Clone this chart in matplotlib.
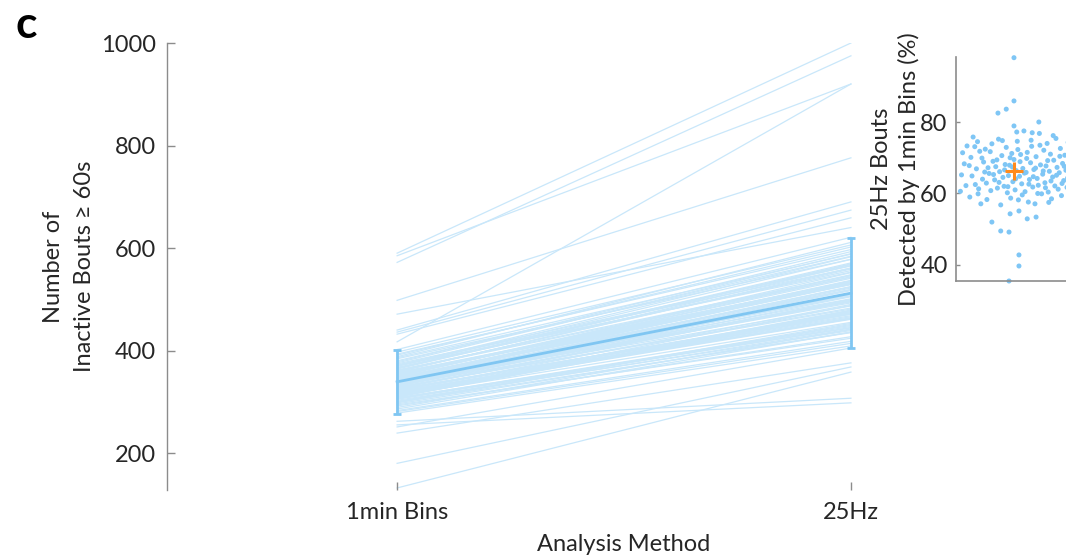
import numpy as np
import matplotlib
matplotlib.use("Agg")
import matplotlib.pyplot as plt
import matplotlib.transforms as mtransforms

plt.rcParams['font.family'] = ['Lato', 'DejaVu Sans']

# individual animals: bouts counted with 1min bins vs 25Hz data
bins_1min = [352, 318, 331, 296, 367, 340, 309, 384, 325, 347,
             289, 358, 336, 314, 372, 301, 344, 327, 393, 320,
             338, 305, 361, 349, 283, 329, 376, 311, 342, 355,
             298, 334, 388, 316, 346, 323, 364, 307, 339, 351,
             278, 332, 370, 313, 343, 357, 292, 326, 380, 337,
             303, 348, 321, 366, 341, 310, 397, 333, 354, 286,
             328, 360, 317, 345, 374, 300, 335, 350, 322, 369,
             306, 339, 391, 315, 356, 330, 294, 362, 343, 324,
             378, 312, 347, 337, 402, 319, 353, 281, 333, 365,
             308, 344, 326, 386, 340, 299, 359, 318, 371, 336,
             590, 585, 572, 498, 471, 440, 436, 432, 417, 262,
             255, 251, 239, 180, 132]
hz_25 = [541, 462, 512, 436, 556, 524, 478, 578, 473, 537,
         441, 566, 495, 488, 561, 442, 531, 500, 597, 468,
         519, 445, 543, 552, 418, 483, 589, 476, 507, 531,
         451, 512, 611, 461, 534, 476, 568, 449, 501, 547,
         409, 487, 553, 473, 529, 534, 427, 498, 584, 517,
         439, 519, 490, 571, 506, 471, 606, 510, 529, 436,
         481, 559, 464, 533, 565, 453, 493, 544, 471, 578,
         447, 522, 602, 479, 533, 505, 424, 546, 530, 474,
         593, 455, 536, 496, 621, 466, 548, 414, 509, 569,
         444, 512, 497, 588, 525, 435, 561, 463, 583, 498,
         1000, 920, 975, 776, 640, 690, 674, 659, 920, 307,
         298, 405, 376, 368, 358]
mean_vals = [339, 512]
sd_vals = [62, 107]
methods = ["1min Bins", "25Hz"]

# inset: % of 25Hz bouts detected by 1min bins (jitter offset, value)
inset_x = [-0.95, -0.90, -0.85, -0.80, -0.78, -0.74, -0.70, -0.68, -0.65, -0.62,
           -0.60, -0.57, -0.55, -0.52, -0.50, -0.47, -0.45, -0.42, -0.40, -0.38,
           -0.35, -0.33, -0.30, -0.28, -0.26, -0.24, -0.22, -0.20, -0.18, -0.16,
           -0.14, -0.12, -0.10, -0.08, -0.06, -0.04, -0.02, 0.00, 0.02, 0.04,
           0.06, 0.08, 0.10, 0.12, 0.14, 0.16, 0.18, 0.20, 0.22, 0.24,
           0.26, 0.28, 0.30, 0.32, 0.34, 0.36, 0.38, 0.40, 0.42, 0.44,
           0.46, 0.48, 0.50, 0.52, 0.54, 0.56, 0.58, 0.60, 0.62, 0.64,
           0.66, 0.68, 0.70, 0.72, 0.74, 0.76, 0.78, 0.80, 0.82, 0.84,
           0.86, 0.88, 0.90, 0.92, 0.94, 0.96, 0.98,
           -0.93, -0.87, -0.81, -0.76, -0.71, -0.64, -0.58, -0.53, -0.49, -0.43,
           -0.37, -0.31, -0.27, -0.21, -0.17, -0.11, -0.07, -0.03, 0.03, 0.07,
           0.11, 0.15, 0.19, 0.23, 0.27, 0.31, 0.35, 0.39, 0.43, 0.47,
           0.53, 0.57, 0.61, 0.67, 0.71, 0.77, 0.83, 0.87, 0.91, 0.97,
           -0.97, -0.66, 0.05, 0.33, 0.63,
           0.00, 0.00, -0.14, -0.29, 0.45, 0.00, -0.40, -0.07, 0.09, 0.24,
           0.40, -0.24, -0.09, 0.09, 0.09, -0.09]
inset_y = [65.2, 68.3, 73.3, 59.0, 70.1, 75.8, 62.5, 66.9, 59.9, 71.8,
           57.1, 64.0, 68.8, 72.4, 62.9, 67.2, 65.6, 60.8, 73.9, 69.0,
           63.8, 67.5, 61.5, 75.2, 66.1, 56.8, 70.6, 64.5, 62.0, 68.1,
           72.9, 60.2, 65.0, 67.9, 58.7, 71.2, 63.3, 69.5, 61.0, 66.4,
           74.6, 58.2, 64.8, 70.9, 62.7, 67.0, 77.5, 60.5, 65.9, 71.5,
           57.6, 63.9, 68.6, 73.2, 61.8, 66.7, 57.1, 70.3, 64.2, 62.3,
           76.8, 68.0, 59.9, 65.4, 72.1, 63.0, 67.7, 74.0, 60.4, 66.2,
           71.0, 58.5, 64.6, 69.3, 62.1, 75.4, 67.3, 61.2, 65.8, 72.6,
           59.4, 68.4, 63.6, 70.7, 66.5, 61.7, 74.3,
           71.4, 62.2, 67.8, 64.9, 73.1, 61.3, 69.9, 66.0, 58.3, 71.7,
           65.3, 69.4, 63.1, 74.8, 66.6, 61.9, 70.0, 67.4, 64.1, 72.3,
           68.9, 59.6, 65.7, 69.8, 62.6, 74.9, 64.7, 67.1, 60.0, 73.5,
           66.3, 61.6, 69.2, 63.5, 76.2, 65.1, 70.4, 62.8, 67.6, 64.3,
           60.6, 74.5, 77.2, 77.0, 57.5,
           98.0, 85.9, 83.6, 82.5, 80.0, 78.9, 52.0, 54.3, 55.1, 52.9,
           53.4, 49.5, 49.2, 42.8, 39.7, 35.5]
inset_center = 66.3

line_col = "#c9e7fa"
mean_col = "#80c6f2"
text_col = "#262626"
spine_col = "#8c8c8c"
fs = 17

fig = plt.figure(figsize=(10.66, 5.57), dpi=100)
ax = fig.add_axes([0.1567, 0.1203, 0.7054, 0.8025])

xpos = np.arange(1, len(methods) + 1)
for a, b in zip(bins_1min, hz_25):
    ax.plot(xpos, [a, b], color=line_col, lw=0.9, zorder=1)
ax.errorbar(xpos, mean_vals, yerr=sd_vals, color=mean_col, lw=2.0,
            elinewidth=2.0, capsize=3, capthick=2.0, zorder=3)

ax.set_xlim(0.493, 2.15)
ax.set_ylim(128, 1000)
ax.set_yticks([200, 400, 600, 800, 1000])
ax.set_xticks(xpos)
ax.set_xticklabels(methods)
for s in ["top", "right", "bottom"]:
    ax.spines[s].set_visible(False)
ax.spines["left"].set_color(spine_col)
ax.spines["left"].set_linewidth(1.0)
ax.tick_params(direction="in", length=6, width=1, color=spine_col,
               labelcolor=text_col, labelsize=fs, pad=8)
ax.tick_params(axis="x", pad=9)
ax.set_ylabel("Number of\nInactive Bouts \u2265 60s", fontsize=fs,
              color=text_col, labelpad=4, linespacing=1.6)
trans = mtransforms.blended_transform_factory(ax.transData, fig.transFigure)
ax.text(1.5, 0.003, "Analysis Method", transform=trans, ha="center",
        va="bottom", fontsize=fs, color=text_col)

fig.text(0.015, 0.955, "c", fontsize=32, fontweight="bold", ha="left",
         va="center", color="black")

# inset
ins = fig.add_axes([0.8968, 0.4955, 0.1088, 0.4022])
ins.scatter(inset_x, inset_y, s=13, color="#7fc6f5", edgecolors="none",
            zorder=2, clip_on=False)
ins.plot([0], [inset_center], marker="+", ms=13, mew=2.2, color="#ff8a1c",
         zorder=3)
ins.set_xlim(-1.05, 1.05)
ins.set_ylim(35.5, 98.2)
ins.set_yticks([40, 60, 80])
ins.set_xticks([])
for s in ["top", "right"]:
    ins.spines[s].set_visible(False)
for s in ["left", "bottom"]:
    ins.spines[s].set_color(spine_col)
    ins.spines[s].set_linewidth(1.2)
ins.tick_params(direction="in", length=3, width=1, color=spine_col,
                labelcolor=text_col, labelsize=fs, pad=6)
ins.set_ylabel("25Hz Bouts\nDetected by 1min Bins (%)", fontsize=fs,
               color=text_col, labelpad=0, linespacing=1.35)

fig.savefig("out.png", dpi=100)
